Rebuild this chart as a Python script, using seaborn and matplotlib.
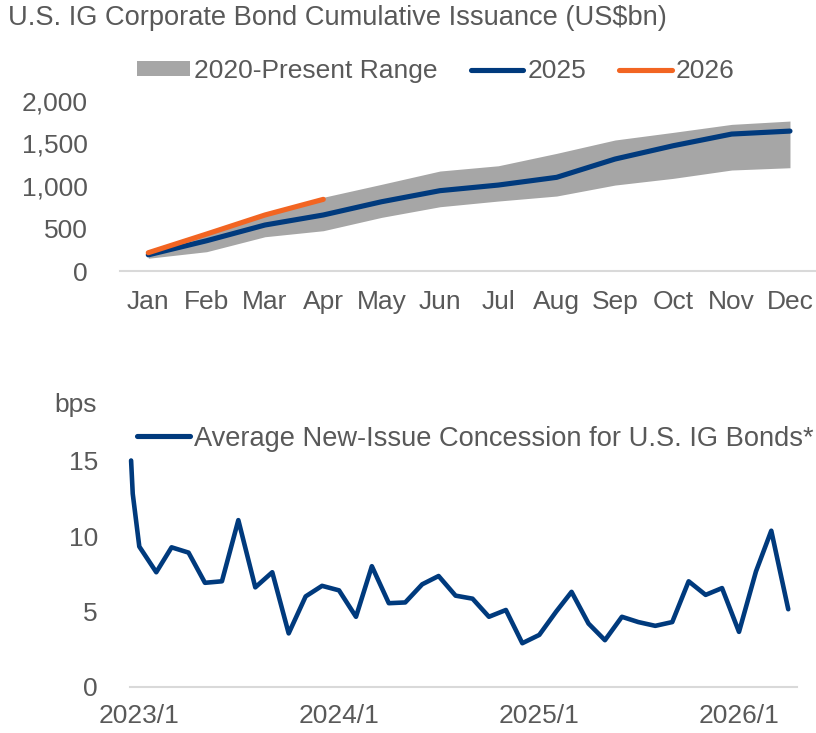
import numpy as np
import pandas as pd
import matplotlib
matplotlib.use('Agg')
import matplotlib.pyplot as plt
import matplotlib.ticker as mticker
from matplotlib.patches import Patch
from matplotlib.lines import Line2D
import seaborn as sns

# ── Data: cumulative issuance (US$bn) 
months = ["Jan", "Feb", "Mar", "Apr", "May", "Jun",
          "Jul", "Aug", "Sep", "Oct", "Nov", "Dec"]
range_low = [150, 227, 403, 474, 631, 756, 823, 882, 1011, 1090, 1188, 1215]
range_high = [230, 440, 665, 867, 1020, 1176, 1238, 1384, 1541, 1631, 1725, 1764]
issuance_2025 = [190, 356, 541, 659, 815, 945, 1011, 1102, 1317, 1474, 1611, 1646]
issuance_2026 = [215, 435, 659, 843]

# ── Data: average new-issue concession (bps)
concession_dates = (["2022-12-17", "2022-12-20"]
                    + [d.strftime("%Y-%m-%d") for d in pd.date_range("2023-01-01", "2026-04-01", freq="MS")])
concession = [15.0, 12.8,
              9.3, 7.6, 9.25, 8.9, 6.9, 7.0, 11.05, 6.6, 7.6, 3.55, 6.0, 6.7,
              6.4, 4.65, 8.0, 5.55, 5.6, 6.8, 7.35, 6.05, 5.85, 4.65, 5.1, 2.9,
              3.45, 5.0, 6.3, 4.2, 3.1, 4.65, 4.3, 4.05, 4.3, 7.0, 6.1, 6.55,
              3.65, 7.65, 10.35, 5.15]
date_ticks = ["2023-01-01", "2024-01-01", "2025-01-01", "2026-01-01"]
date_tick_labels = ["2023/1", "2024/1", "2025/1", "2026/1"]

# ── Style
sns.set_theme(style="white")
plt.rcParams['font.family'] = ['Liberation Sans', 'DejaVu Sans']
FS = 19
FS_BIG = 19.6
TXT = "#595959"
NAVY = "#003A7D"
ORANGE = "#F26522"
GREY = "#A6A6A6"
AXIS = "#D9D9D9"

W, H = 816, 733
fig = plt.figure(figsize=(W / 100, H / 100), dpi=100)

# ── Top chart
ax1 = fig.add_axes([120 / W, (H - 271) / H, (W - 120) / W, 170 / H])
ax1.fill_between(months, range_low, range_high, color=GREY, linewidth=0)
sns.lineplot(x=months, y=issuance_2025, color=NAVY, linewidth=3.7, ax=ax1,
             sort=False, solid_capstyle='round')
sns.lineplot(x=months[:len(issuance_2026)], y=issuance_2026, color=ORANGE,
             linewidth=3.7, ax=ax1, sort=False, solid_capstyle='round')
ax1.set_xlim(-0.485, 11.446)
ax1.set_ylim(0, 2000)
ax1.set_yticks([0, 500, 1000, 1500, 2000])
ax1.yaxis.set_major_formatter(mticker.FuncFormatter(lambda v, p: f"{v:,.0f}"))

# ── Bottom chart
ax2 = fig.add_axes([130 / W, (H - 687) / H, 667 / W, 226.5 / H])
sns.lineplot(x=pd.to_datetime(concession_dates), y=concession, color=NAVY,
             linewidth=3.3, ax=ax2, sort=False)
for line in ax2.get_lines():
    line.set_clip_on(False)
ax2.set_ylim(0, 15)
ax2.set_yticks([0, 5, 10, 15])
ax2.set_xticks(pd.to_datetime(date_ticks))
ax2.set_xticklabels(date_tick_labels)
ax2.set_xlim(pd.Timestamp("2022-12-15"), pd.Timestamp("2026-04-17"))

for ax in (ax1, ax2):
    for s in ("top", "right", "left"):
        ax.spines[s].set_visible(False)
    ax.spines["bottom"].set_color(AXIS)
    ax.spines["bottom"].set_linewidth(1.5)
    ax.tick_params(axis='y', length=0, pad=23, labelsize=FS, labelcolor=TXT)
    ax.tick_params(axis='x', length=0, pad=12, labelsize=FS, labelcolor=TXT)
    ax.set_xlabel("")
    ax.set_ylabel("")
    ax.grid(False)
    ax.set_facecolor("none")
ax1.tick_params(axis='x', pad=14)

# ── Text and legends
fig.text(8 / W, 1 - 18 / H, "U.S. IG Corporate Bond Cumulative Issuance (US$bn)",
         ha='left', va='center', fontsize=FS_BIG, color=TXT)
fig.text(54 / W, 1 - 405 / H, "bps", ha='left', va='center', fontsize=FS, color=TXT)

top_handles = [Patch(facecolor=GREY, edgecolor='none'),
               Line2D([], [], color=NAVY, linewidth=3.7, solid_capstyle='round'),
               Line2D([], [], color=ORANGE, linewidth=3.7, solid_capstyle='round')]
leg1 = fig.legend(top_handles, ["2020-Present Range", "2025", "2026"],
                  loc='center', bbox_to_anchor=(436 / W, 1 - 71 / H), ncol=3,
                  frameon=False, fontsize=FS, handlelength=2.0, handleheight=0.5,
                  handletextpad=0.15, columnspacing=1.25, borderpad=0, borderaxespad=0)
for t in leg1.get_texts():
    t.set_color(TXT)

leg2 = fig.legend([Line2D([], [], color=NAVY, linewidth=3.7, solid_capstyle='round')],
                  ["Average New-Issue Concession for U.S. IG Bonds*"],
                  loc='center left', bbox_to_anchor=(137 / W, 1 - 439 / H),
                  frameon=False, fontsize=FS_BIG, handlelength=1.95,
                  handletextpad=0.15, borderpad=0, borderaxespad=0)
for t in leg2.get_texts():
    t.set_color(TXT)

fig.savefig("out.png", dpi=100)
